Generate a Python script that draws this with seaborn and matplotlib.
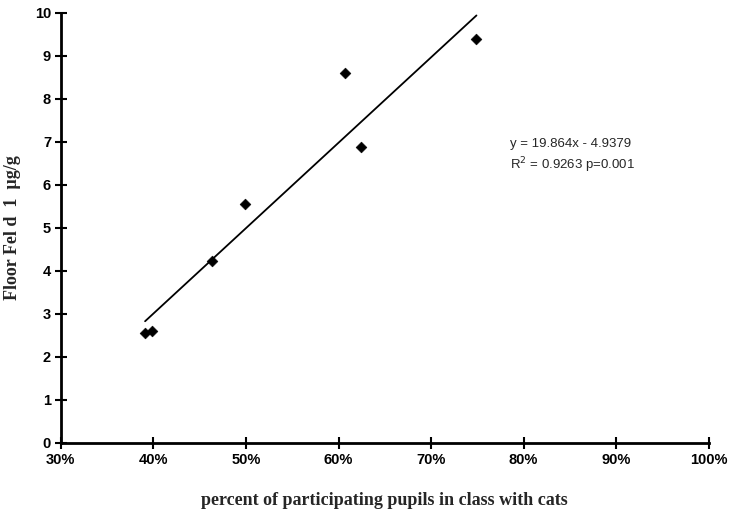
import matplotlib
matplotlib.use("Agg")
import matplotlib.pyplot as plt
import seaborn as sns
import pandas as pd
from matplotlib.ticker import PercentFormatter

# data
pct_cats = [0.391, 0.399, 0.463, 0.499, 0.607, 0.624, 0.749]
fel_d1 = [2.56, 2.60, 4.23, 5.55, 8.60, 6.88, 9.40]
slope = 19.864
intercept = -4.9379
x_ticks = [0.3, 0.4, 0.5, 0.6, 0.7, 0.8, 0.9, 1.0]
y_ticks = list(range(0, 11))

df = pd.DataFrame({"pct": pct_cats, "fel": fel_d1})
fit_x = [min(pct_cats), max(pct_cats)]
fit_y = [slope * v + intercept for v in fit_x]

sns.set_style("white")
plt.rcParams["font.family"] = ["Liberation Sans", "DejaVu Sans"]

fig = plt.figure(figsize=(7.33, 5.15), dpi=100)
ax = fig.add_axes([0.083, 0.14, 0.884, 0.835])

sns.scatterplot(data=df, x="pct", y="fel", marker="D", s=30, color="black",
                edgecolor="black", ax=ax, zorder=3)
sns.lineplot(x=fit_x, y=fit_y, color="black", linewidth=1.3, ax=ax)

ax.set_xlim(0.3, 1.0)
ax.set_ylim(0, 10)
ax.set_xticks(x_ticks)
ax.set_yticks(y_ticks)
ax.xaxis.set_major_formatter(PercentFormatter(1.0, decimals=0))

for side in ["top", "right"]:
    ax.spines[side].set_visible(False)
for side in ["left", "bottom"]:
    ax.spines[side].set_linewidth(2)
    ax.spines[side].set_color("black")

ax.tick_params(axis="both", bottom=True, left=True, direction="inout",
               length=8, width=1.5, colors="black", labelsize=10.5)
ax.tick_params(axis="x", pad=3)
ax.tick_params(axis="y", pad=3)
for lab in ax.get_xticklabels() + ax.get_yticklabels():
    lab.set_fontweight("bold")

ax.set_xlabel("percent of participating pupils in class with cats",
              fontsize=13, fontweight="bold", family="Liberation Serif", labelpad=18)
ax.set_ylabel("Floor Fel d  1  µg/g",
              fontsize=13, fontweight="bold", family="Liberation Serif", labelpad=10)

ax.text(0.785, 6.95, "y = 19.864x - 4.9379", fontsize=9.5, va="center")
ax.text(0.785, 6.45, "R$^2$ = 0.9263 p=0.001", fontsize=9.5, va="center")

fig.savefig("out.png", dpi=100)
